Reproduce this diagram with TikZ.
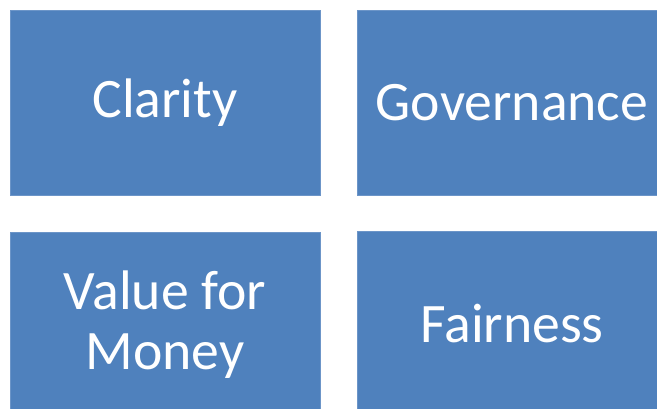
\documentclass[tikz,border=0pt]{standalone}
\usepackage{fontspec}
\setmainfont{Carlito}
\definecolor{tileblue}{HTML}{4F81BD}
\definecolor{tileedge}{HTML}{6C95C8}
\tikzset{
  tile/.style={rectangle, fill=tileblue, draw=tileedge, line width=0.8pt,
    minimum width=310pt, minimum height=185pt, inner sep=0pt,
    text=white, align=center, font=\fontsize{55.7}{60}\selectfont}
}
\begin{document}
\begin{tikzpicture}[x=1pt,y=1pt]
            \useasboundingbox (0,0) rectangle (657,-409);
            \clip (0,0) rectangle (657,-409);
            \node[tile] (clarity) at (165,-102.5) {Clarity};
            \node[tile] (governance) at (512,-102.5) {Governance};
            \node[tile] (value) at (165,-324.5) {Value for\\Money};
            \node[tile] (fairness) at (512,-323.5) {Fairness};
    \end{tikzpicture}
\end{document}
